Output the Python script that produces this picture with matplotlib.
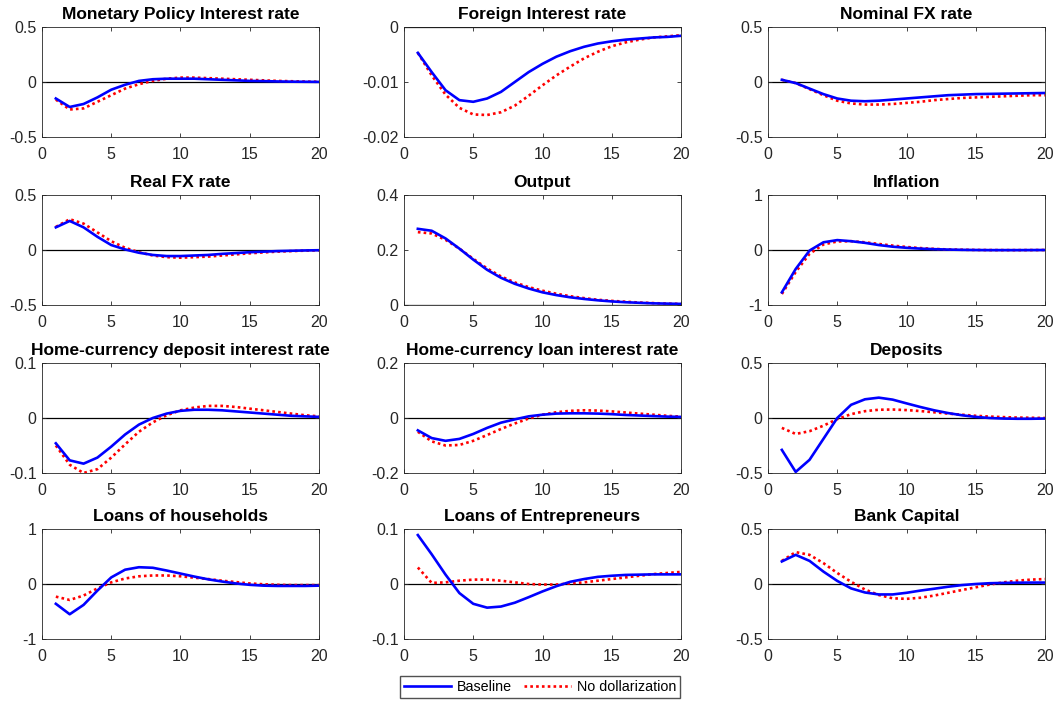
import matplotlib.pyplot as plt
from matplotlib.lines import Line2D

plt.rcParams['font.family'] = ['Liberation Sans', 'DejaVu Sans']

periods = list(range(1, 21))

titles = [
    "Monetary Policy Interest rate", "Foreign Interest rate", "Nominal FX rate",
    "Real FX rate", "Output", "Inflation",
    "Home-currency deposit interest rate", "Home-currency loan interest rate", "Deposits",
    "Loans of households", "Loans of Entrepreneurs", "Bank Capital",
]

ylims = [
    (-0.5, 0.5), (-0.02, 0), (-0.5, 0.5),
    (-0.5, 0.5), (0, 0.4), (-1, 1),
    (-0.1, 0.1), (-0.2, 0.2), (-0.5, 0.5),
    (-1, 1), (-0.1, 0.1), (-0.5, 0.5),
]

yticks = [
    [-0.5, 0, 0.5], [-0.02, -0.01, 0], [-0.5, 0, 0.5],
    [-0.5, 0, 0.5], [0, 0.2, 0.4], [-1, 0, 1],
    [-0.1, 0, 0.1], [-0.2, 0, 0.2], [-0.5, 0, 0.5],
    [-1, 0, 1], [-0.1, 0, 0.1], [-0.5, 0, 0.5],
]

# Baseline responses
base_mpr = [-0.15, -0.227, -0.20, -0.14, -0.07, -0.025, 0.01, 0.025, 0.03, 0.03,
            0.03, 0.025, 0.02, 0.015, 0.01, 0.008, 0.005, 0.003, 0.002, 0.001]
base_foreign = [-0.0047, -0.0082, -0.0115, -0.0133, -0.0136, -0.0130, -0.0118, -0.0100, -0.0082, -0.0067,
                -0.0054, -0.0044, -0.0036, -0.0030, -0.0026, -0.0023, -0.0021, -0.0019, -0.0018, -0.0016]
base_nomfx = [0.02, -0.01, -0.06, -0.11, -0.15, -0.17, -0.175, -0.17, -0.16, -0.15,
              -0.14, -0.13, -0.12, -0.115, -0.11, -0.108, -0.106, -0.104, -0.102, -0.10]
base_realfx = [0.206, 0.264, 0.206, 0.12, 0.045, 0.005, -0.025, -0.045, -0.055, -0.055,
               -0.05, -0.045, -0.035, -0.028, -0.02, -0.015, -0.01, -0.007, -0.004, -0.002]
base_output = [0.277, 0.27, 0.242, 0.205, 0.165, 0.128, 0.099, 0.077, 0.06, 0.046,
               0.036, 0.028, 0.022, 0.017, 0.013, 0.01, 0.008, 0.006, 0.005, 0.004]
base_infl = [-0.77, -0.345, -0.01, 0.14, 0.18, 0.16, 0.13, 0.09, 0.06, 0.04,
             0.025, 0.015, 0.008, 0.003, 0.0, -0.002, -0.002, -0.002, -0.001, 0.0]
base_dep_rate = [-0.046, -0.077, -0.083, -0.072, -0.052, -0.030, -0.012, 0.0, 0.008, 0.013,
                 0.015, 0.015, 0.014, 0.012, 0.01, 0.008, 0.006, 0.004, 0.003, 0.002]
base_loan_rate = [-0.045, -0.073, -0.083, -0.076, -0.058, -0.036, -0.017, -0.005, 0.006, 0.012,
                  0.016, 0.017, 0.017, 0.016, 0.014, 0.011, 0.009, 0.007, 0.005, 0.004]
base_deposits = [-0.29, -0.49, -0.38, -0.19, 0.0, 0.12, 0.17, 0.185, 0.167, 0.133,
                 0.1, 0.07, 0.045, 0.025, 0.01, 0.0, -0.005, -0.007, -0.007, -0.005]
base_loans_hh = [-0.36, -0.55, -0.38, -0.12, 0.12, 0.26, 0.305, 0.295, 0.245, 0.19,
                 0.135, 0.085, 0.045, 0.01, -0.015, -0.03, -0.035, -0.035, -0.035, -0.03]
base_loans_ent = [0.089, 0.054, 0.017, -0.0165, -0.036, -0.043, -0.041, -0.034, -0.024, -0.0135,
                  -0.004, 0.004, 0.009, 0.013, 0.015, 0.0165, 0.017, 0.0175, 0.0175, 0.0175]
base_capital = [0.205, 0.265, 0.21, 0.113, 0.028, -0.04, -0.077, -0.095, -0.095, -0.08,
                -0.06, -0.043, -0.025, -0.01, 0.0, 0.007, 0.01, 0.012, 0.013, 0.013]

# No dollarization responses
nodol_mpr = [-0.16, -0.25, -0.24, -0.18, -0.12, -0.06, -0.02, 0.01, 0.03, 0.04,
             0.04, 0.035, 0.03, 0.025, 0.02, 0.015, 0.01, 0.007, 0.004, 0.002]
nodol_foreign = [-0.0047, -0.0088, -0.0123, -0.0147, -0.0159, -0.0160, -0.0155, -0.0143, -0.0125, -0.0106,
                 -0.0088, -0.0072, -0.0057, -0.0045, -0.0035, -0.0028, -0.0023, -0.0019, -0.0017, -0.0015]
nodol_nomfx = [0.02, -0.01, -0.065, -0.12, -0.17, -0.195, -0.205, -0.205, -0.2, -0.19,
               -0.18, -0.165, -0.155, -0.145, -0.14, -0.135, -0.13, -0.125, -0.12, -0.12]
nodol_realfx = [0.21, 0.28, 0.24, 0.16, 0.08, 0.02, -0.02, -0.05, -0.065, -0.07,
                -0.065, -0.06, -0.05, -0.04, -0.03, -0.022, -0.015, -0.01, -0.006, -0.003]
nodol_output = [0.265, 0.26, 0.237, 0.205, 0.168, 0.133, 0.104, 0.082, 0.065, 0.052,
                0.041, 0.032, 0.025, 0.019, 0.015, 0.012, 0.009, 0.007, 0.005, 0.004]
nodol_infl = [-0.8, -0.4, -0.07, 0.1, 0.155, 0.16, 0.14, 0.11, 0.08, 0.055,
              0.035, 0.02, 0.01, 0.005, 0.001, -0.001, -0.002, -0.002, -0.001, 0.0]
nodol_dep_rate = [-0.05, -0.085, -0.1, -0.093, -0.072, -0.048, -0.025, -0.008, 0.005, 0.014,
                  0.019, 0.022, 0.022, 0.02, 0.017, 0.014, 0.011, 0.008, 0.005, 0.003]
nodol_loan_rate = [-0.05, -0.085, -0.1, -0.098, -0.083, -0.062, -0.04, -0.02, -0.002, 0.012,
                   0.021, 0.026, 0.028, 0.027, 0.024, 0.02, 0.016, 0.012, 0.008, 0.005]
nodol_deposits = [-0.09, -0.145, -0.12, -0.07, -0.01, 0.035, 0.062, 0.075, 0.077, 0.072,
                  0.063, 0.052, 0.04, 0.03, 0.02, 0.013, 0.008, 0.004, 0.002, 0.0]
nodol_loans_hh = [-0.23, -0.29, -0.21, -0.08, 0.03, 0.1, 0.14, 0.155, 0.155, 0.14,
                  0.115, 0.09, 0.06, 0.035, 0.01, -0.005, -0.015, -0.02, -0.02, -0.02]
nodol_loans_ent = [0.03, 0.002, 0.003, 0.006, 0.008, 0.008, 0.006, 0.003, 0.0, -0.001,
                   -0.001, 0.001, 0.003, 0.006, 0.009, 0.012, 0.015, 0.018, 0.02, 0.022]
nodol_capital = [0.21, 0.29, 0.265, 0.19, 0.1, 0.02, -0.05, -0.1, -0.13, -0.135,
                 -0.125, -0.105, -0.08, -0.055, -0.03, -0.005, 0.015, 0.03, 0.04, 0.045]

baseline = [base_mpr, base_foreign, base_nomfx, base_realfx, base_output, base_infl,
            base_dep_rate, base_loan_rate, base_deposits, base_loans_hh, base_loans_ent, base_capital]
no_dollar = [nodol_mpr, nodol_foreign, nodol_nomfx, nodol_realfx, nodol_output, nodol_infl,
             nodol_dep_rate, nodol_loan_rate, nodol_deposits, nodol_loans_hh, nodol_loans_ent, nodol_capital]


def main():
    W, H = 1057, 702
    fig = plt.figure(figsize=(W / 100, H / 100), dpi=100)

    # axes boxes in pixels (left, top); width/height common to all panels
    lefts = [42, 404, 768]
    tops = [27, 195, 363, 529]
    aw, ah = 277, 110

    for i in range(12):
        r, c = divmod(i, 3)
        ax = fig.add_axes([lefts[c] / W, 1 - (tops[r] + ah) / H, aw / W, ah / H])
        ax.axhline(0, color='black', linewidth=0.9, zorder=1)
        ax.plot(periods, baseline[i], color='#0000ff', linewidth=1.9, zorder=3)
        ax.plot(periods, no_dollar[i], color='#ff0000', linewidth=1.9,
                linestyle=(0, (1, 1.2)), zorder=2)
        ax.set_xlim(0, 20)
        ax.set_ylim(*ylims[i])
        ax.set_xticks([0, 5, 10, 15, 20])
        ax.set_yticks(yticks[i])
        ax.set_yticklabels([f"{v:g}" for v in yticks[i]])
        ax.tick_params(direction='in', top=True, right=True, length=3,
                       labelsize=11.5, colors='#262626', width=0.6)
        ax.tick_params(axis='x', pad=7)
        ax.tick_params(axis='y', pad=4)
        for s in ax.spines.values():
            s.set_color('#262626')
            s.set_linewidth(0.6)
        ax.set_title(titles[i], fontsize=12.5, fontweight='bold', pad=6)

    handles = [Line2D([], [], color='#0000ff', linewidth=1.9),
               Line2D([], [], color='#ff0000', linewidth=1.9, linestyle=(0, (1, 1.2)))]
    fig.legend(handles, ["Baseline", "No dollarization"], ncol=2,
               loc='center', bbox_to_anchor=(540 / W, 1 - 687 / H),
               fontsize=10.3, frameon=True, fancybox=False, edgecolor='#262626',
               handlelength=3.3, columnspacing=0.8, handletextpad=0.4,
               borderpad=0.3)

    plt.savefig("out.png", dpi=100)


if __name__ == "__main__":
    main()
